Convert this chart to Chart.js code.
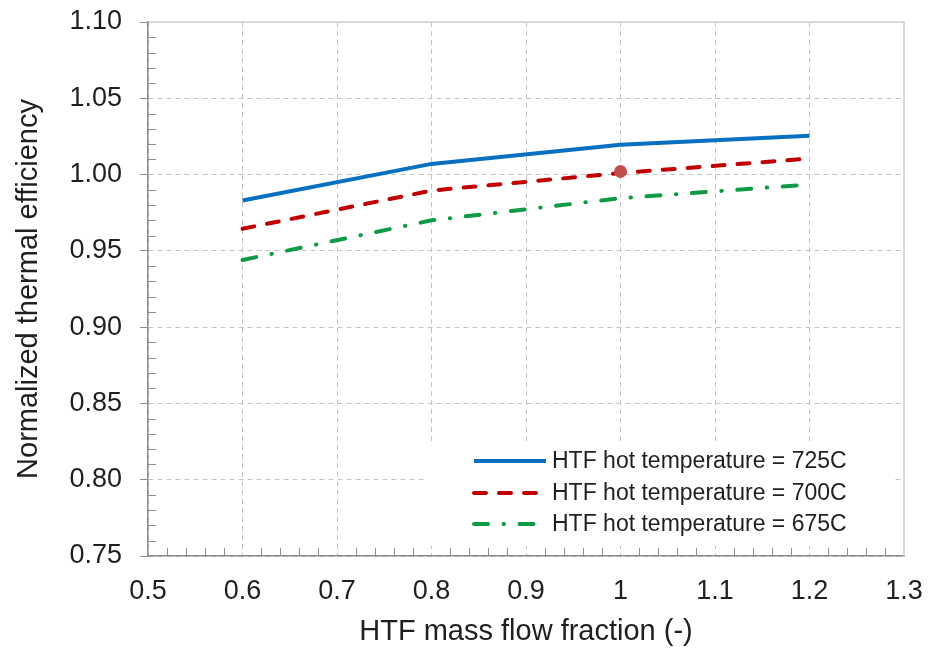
<!DOCTYPE html>
<html>
<head>
<meta charset="utf-8">
<script src="https://cdn.jsdelivr.net/npm/chart.js@4.4.1/dist/chart.umd.min.js"></script>
<style>
  html, body { margin: 0; padding: 0; background: #ffffff; }
  #wrap { width: 937px; height: 649px; }
</style>
</head>
<body>
<div id="wrap"><canvas id="c" width="937" height="649"></canvas></div>
<script>
// ---- data ----
const flowFractions = [0.6, 0.8, 1.0, 1.2];
const eff725 = [0.983, 1.007, 1.0195, 1.0255];
const eff700 = [0.9645, 0.9895, 1.001, 1.0105];
const eff675 = [0.944, 0.970, 0.9845, 0.9935];
const designPointX = [1.0];
const designPointY = [1.002];
const seriesNames = ['HTF hot temperature = 725C', 'HTF hot temperature = 700C', 'HTF hot temperature = 675C'];
const xTickValues = [0.5, 0.6, 0.7, 0.8, 0.9, 1.0, 1.1, 1.2, 1.3];
const yTickValues = [0.75, 0.80, 0.85, 0.90, 0.95, 1.00, 1.05, 1.10];
const xTitle = 'HTF mass flow fraction (-)';
const yTitle = 'Normalized thermal efficiency';

const FONT = "'Liberation Sans', Arial, sans-serif";
const TXT = '#1f1f1f';
const AXIS = '#8c8c8c';
const GRID = '#c4c4c4';

function pts(xs, ys) { return xs.map((x, i) => ({ x: x, y: ys[i] })); }

const minorTicksPlugin = {
  id: 'minorTicks',
  beforeDatasetsDraw(chart) {
    const ctx = chart.ctx, xs = chart.scales.x, ys = chart.scales.y, a = chart.chartArea;
    ctx.save();
    ctx.strokeStyle = '#cfcfcf';
    ctx.lineWidth = 1.5;
    ctx.beginPath();
    ctx.moveTo(a.left, a.top); ctx.lineTo(a.right, a.top); ctx.lineTo(a.right, a.bottom);
    ctx.stroke();
    ctx.strokeStyle = AXIS;
    ctx.lineWidth = 1;
    ctx.beginPath();
    for (let k = 0; k <= 35; k++) {
      if (k % 5 === 0) continue;
      const py = Math.round(ys.getPixelForValue(0.75 + k * 0.01)) + 0.5;
      ctx.moveTo(a.left, py); ctx.lineTo(a.left + 8, py);
    }
    for (let k = 0; k <= 40; k++) {
      if (k % 5 === 0) continue;
      const px = Math.round(xs.getPixelForValue(0.5 + k * 0.02)) + 0.5;
      ctx.moveTo(px, a.bottom); ctx.lineTo(px, a.bottom - 8);
    }
    ctx.stroke();
    ctx.restore();
  }
};

const legendPlugin = {
  id: 'innerLegend',
  afterDatasetsDraw(chart) {
    const ctx = chart.ctx;
    ctx.save();
    ctx.fillStyle = '#ffffff';
    ctx.fillRect(425, 443, 470, 103);
    const rowsY = [461, 493, 524];
    for (let i = 0; i < 3; i++) {
      const ds = chart.data.datasets[i];
      ctx.strokeStyle = ds.borderColor;
      ctx.lineWidth = ds.borderWidth;
      ctx.lineCap = ds.borderCapStyle || 'butt';
      ctx.setLineDash(ds.borderDash || []);
      ctx.beginPath();
      ctx.moveTo(474, rowsY[i]); ctx.lineTo(546, rowsY[i]);
      ctx.stroke();
      ctx.setLineDash([]);
      ctx.fillStyle = TXT;
      ctx.font = '23px ' + FONT;
      ctx.textBaseline = 'middle';
      ctx.textAlign = 'left';
      ctx.fillText(ds.label, 552, rowsY[i] + 1);
    }
    ctx.restore();
  }
};

new Chart(document.getElementById('c'), {
  type: 'line',
  data: {
    datasets: [
      { label: seriesNames[0], data: pts(flowFractions, eff725), borderColor: '#0870c0', borderWidth: 4,
        borderCapStyle: 'butt', pointRadius: 0, tension: 0, fill: false },
      { label: seriesNames[1], data: pts(flowFractions, eff700), borderColor: '#c00000', borderWidth: 4,
        borderDash: [12, 13], borderCapStyle: 'round', pointRadius: 0, tension: 0, fill: false },
      { label: seriesNames[2], data: pts(flowFractions, eff675), borderColor: '#0f9a45', borderWidth: 4,
        borderDash: [14, 15.5, 0.5, 15.5], borderCapStyle: 'round', pointRadius: 0, tension: 0, fill: false },
      { label: 'design', data: pts(designPointX, designPointY), showLine: false, pointRadius: 6.5, order: -1,
        pointBackgroundColor: '#c0504d', pointBorderColor: '#c0504d', pointBorderWidth: 0 }
    ]
  },
  options: {
    responsive: false,
    animation: false,
    devicePixelRatio: 1,
    layout: { padding: { top: 22, right: 33, left: 0, bottom: 0 } },
    plugins: { legend: { display: false }, tooltip: { enabled: false } },
    scales: {
      x: {
        type: 'linear', min: 0.5, max: 1.3,
        afterBuildTicks: (s) => { s.ticks = xTickValues.map(v => ({ value: v })); },
        afterFit: (s) => { s.height = 93; s.paddingLeft = 0; s.paddingRight = 0; },
        ticks: {
          padding: 19, color: TXT, font: { family: FONT, size: 27 },
          callback: (v) => String(Number(Number(v).toFixed(1))), maxRotation: 0, autoSkip: false
        },
        grid: {
          color: (c) => (c.tick && Math.abs(c.tick.value - 1.3) < 1e-6) ? 'rgba(0,0,0,0)' : GRID,
          lineWidth: 1, drawTicks: false
        },
        border: { display: true, color: AXIS, width: 1.5, dash: [5, 4] },
        title: { display: true, text: xTitle, color: TXT, font: { family: FONT, size: 29 }, padding: { top: 0, bottom: 0 } }
      },
      y: {
        type: 'linear', min: 0.75, max: 1.10,
        afterBuildTicks: (s) => { s.ticks = yTickValues.map(v => ({ value: v })); },
        afterFit: (s) => { s.width = 148; s.paddingTop = 0; s.paddingBottom = 0; },
        ticks: {
          padding: 18, color: TXT, font: { family: FONT, size: 27 },
          callback: (v) => Number(v).toFixed(2), autoSkip: false
        },
        grid: {
          color: (c) => (c.tick && Math.abs(c.tick.value - 1.10) < 1e-6) ? 'rgba(0,0,0,0)' : GRID,
          lineWidth: 1, drawTicks: true, tickLength: 8, tickColor: AXIS, tickWidth: 1, tickBorderDash: []
        },
        border: { display: true, color: AXIS, width: 1.5, dash: [5, 4] },
        title: { display: true, text: yTitle, color: TXT, font: { family: FONT, size: 29 }, padding: { top: 12, bottom: 0 } }
      }
    }
  },
  plugins: [minorTicksPlugin, legendPlugin]
});
</script>
</body>
</html>
